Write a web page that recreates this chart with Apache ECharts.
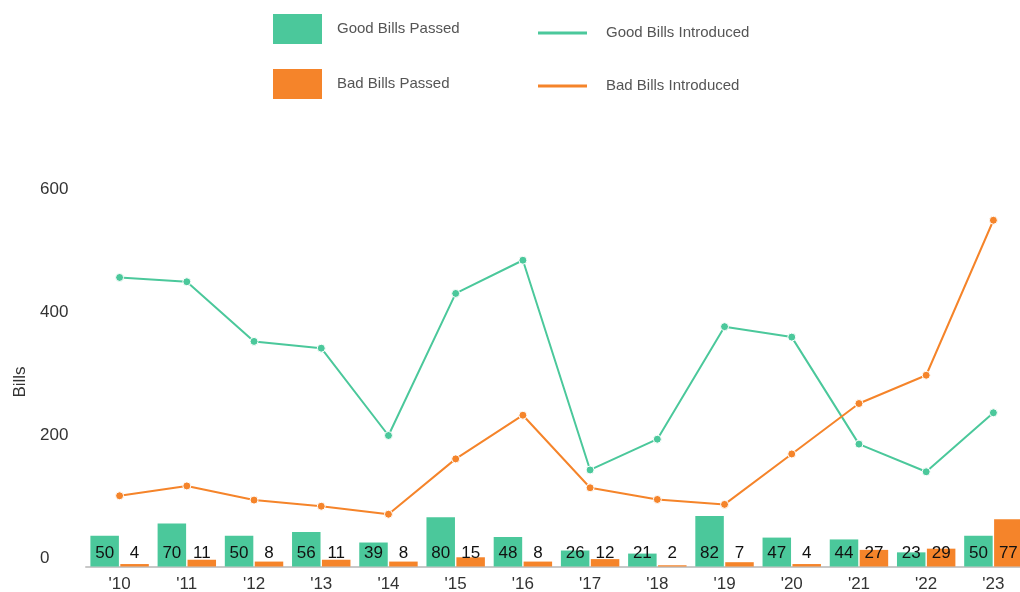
<!DOCTYPE html>
<html>
<head>
<meta charset="utf-8">
<style>
  html, body { margin: 0; padding: 0; background: #ffffff; }
  #chart { width: 1020px; height: 592px; }
</style>
<script src="https://cdn.jsdelivr.net/npm/echarts@6/dist/echarts.min.js"></script>
</head>
<body>
<div id="chart"></div>
<script>
// Years shown on the category axis
const years = ["'10", "'11", "'12", "'13", "'14", "'15", "'16", "'17", "'18", "'19", "'20", "'21", "'22", "'23"];

// Bills passed each year
const goodPassed = [50, 70, 50, 56, 39, 80, 48, 26, 21, 82, 47, 44, 23, 50];
const badPassed  = [4, 11, 8, 11, 8, 15, 8, 12, 2, 7, 4, 27, 29, 77];

// Bills introduced each year
const goodIntroduced = [470, 463, 366, 355, 213, 444, 498, 157, 207, 390, 373, 199, 154, 250];
const badIntroduced  = [115, 131, 108, 98, 85, 175, 246, 128, 109, 101, 183, 265, 311, 563];

// Value axis ticks
const yTicks = { min: 0, max: 600, interval: 200 };

const GREEN = '#4bc89b';
const ORANGE = '#f5842a';
const FONT = 'Liberation Sans, Arial, sans-serif';

const chart = echarts.init(document.getElementById('chart'), null, { renderer: 'canvas' });

const barLabel = {
  show: true,
  position: 'insideBottom',
  distance: 5,
  color: '#111',
  fontSize: 17,
  fontFamily: FONT
};

chart.setOption({
  animation: false,
  backgroundColor: '#ffffff',
  textStyle: { fontFamily: FONT },
  legend: [
    {
      orient: 'vertical',
      left: 273,
      top: 12,
      padding: 0,
      itemWidth: 49,
      itemHeight: 30,
      itemGap: 21,
      icon: 'rect',
      itemStyle: { borderWidth: 0 },
      data: ['Good Bills Passed', 'Bad Bills Passed'],
      textStyle: { fontSize: 15, color: '#555', fontFamily: FONT, lineHeight: 30, padding: [4, 0, 0, 10] }
    },
    {
      orient: 'vertical',
      left: 538,
      top: 18,
      padding: 0,
      itemWidth: 49,
      itemHeight: 3,
      itemGap: 23,
      icon: 'rect',
      itemStyle: { borderWidth: 0 },
      data: ['Good Bills Introduced', 'Bad Bills Introduced'],
      textStyle: { fontSize: 15, color: '#555', fontFamily: FONT, lineHeight: 30, padding: [0, 0, 0, 14] }
    }
  ],
  grid: {
    left: 86,
    top: 197.5,
    width: 941,
    height: 369,
    containLabel: false,
    outerBoundsMode: 'none'
  },
  xAxis: {
    type: 'category',
    data: years,
    boundaryGap: true,
    axisLine: { show: true, lineStyle: { color: '#c8c8c8', width: 2 } },
    axisTick: { show: false },
    axisLabel: { color: '#333', fontSize: 17, margin: 9, fontFamily: FONT },
    splitLine: { show: false }
  },
  yAxis: {
    type: 'value',
    min: yTicks.min,
    max: yTicks.max,
    interval: yTicks.interval,
    name: 'Bills',
    nameLocation: 'middle',
    nameGap: 57,
    nameTextStyle: { color: '#333', fontSize: 17, fontFamily: FONT },
    axisLine: { show: false },
    axisTick: { show: false },
    splitLine: { show: false },
    axisLabel: {
      color: '#333',
      fontSize: 17,
      align: 'left',
      verticalAlign: 'bottom',
      margin: 46,
      fontFamily: FONT
    }
  },
  series: [
    {
      name: 'Good Bills Passed',
      type: 'bar',
      data: goodPassed,
      barWidth: 28.5,
      barGap: '5%',
      itemStyle: { color: GREEN },
      label: barLabel,
      z: 2
    },
    {
      name: 'Bad Bills Passed',
      type: 'bar',
      data: badPassed,
      barWidth: 28.5,
      barGap: '5%',
      itemStyle: { color: ORANGE },
      label: barLabel,
      z: 2
    },
    {
      name: 'Good Bills Introduced',
      type: 'line',
      data: goodIntroduced,
      symbol: 'circle',
      symbolSize: 8,
      lineStyle: { color: GREEN, width: 2 },
      itemStyle: { color: GREEN, borderColor: '#fff', borderWidth: 1 },
      z: 5
    },
    {
      name: 'Bad Bills Introduced',
      type: 'line',
      data: badIntroduced,
      symbol: 'circle',
      symbolSize: 8,
      lineStyle: { color: ORANGE, width: 2 },
      itemStyle: { color: ORANGE, borderColor: '#fff', borderWidth: 1 },
      z: 5
    }
  ]
});
</script>
</body>
</html>
